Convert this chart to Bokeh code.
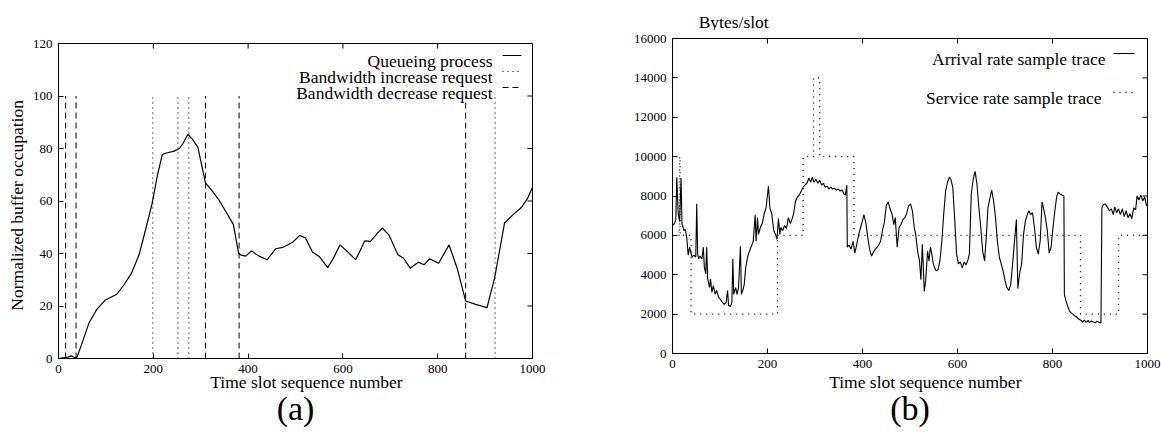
from bokeh.plotting import figure
from bokeh.layouts import row, column
from bokeh.models import Range1d, LinearAxis, Label, FixedTicker
from bokeh.embed import file_html
from bokeh.resources import INLINE

FONT = "Liberation Serif"

# ---------------- data : panel (a) ----------------
queue_x = [0, 13, 21, 27, 33, 38, 48, 64, 80, 99, 123, 138, 154, 170, 185, 197,
           209, 219, 228, 244, 255, 263, 273, 283, 294, 310, 322, 338, 353, 369,
           380, 384, 395, 407, 423, 440, 458, 473, 494, 509, 521, 536, 550, 568,
           580, 594, 611, 627, 646, 658, 670, 683, 697, 716, 728, 742, 759, 771,
           783, 802, 824, 841, 859, 880, 904, 920, 941, 959, 977, 990, 1000]
queue_y = [0, 0.3, 0.6, 1.0, 0.5, 0, 5, 13.4, 18.5, 22.3, 24.5, 28, 32.5, 39.5,
           50, 58.6, 70, 77.7, 78.3, 79, 80, 82, 85.4, 83.4, 80.5, 66.9, 64.3,
           60.5, 56, 51, 40.1, 39.5, 39, 41, 39, 37.6, 41.8, 42.3, 44.3, 46.9,
           45.9, 40.5, 38.9, 34.6, 38.2, 43.3, 40.5, 37.6, 44.8, 44.6, 47.1, 49.7,
           47.1, 39.5, 38.2, 34.4, 36.7, 35.7, 38, 36.3, 43.3, 34.4, 21.9, 20.6,
           19.4, 30.6, 51.6, 54.8, 57.6, 61.1, 65.2]
inc_req_x = [199, 252, 275, 921]
dec_req_x = [15, 37, 310, 381, 859]
req_level = 100

# ---------------- data : panel (b) ----------------
arr_x = [0, 4, 7, 9, 12, 15, 18, 20, 24, 27,
         30, 33, 36, 39, 41, 45, 49, 51, 53, 55,
         58, 62, 65, 67, 70, 72, 74, 78, 80, 83,
         86, 90, 93, 97, 101, 105, 109, 113, 116, 118,
         122, 125, 127, 129, 133, 136, 139, 143, 145, 148,
         151, 154, 158, 162, 166, 170, 174, 176, 179, 181,
         185, 189, 193, 197, 202, 205, 209, 213, 217, 220,
         223, 226, 228, 232, 236, 240, 244, 248, 252, 255,
         259, 263, 267, 271, 275, 279, 283, 287, 291, 294,
         298, 302, 306, 310, 314, 318, 321, 326, 329, 333,
         337, 341, 345, 349, 353, 357, 361, 364, 367, 368,
         372, 376, 380, 384, 388, 392, 396, 400, 403, 407,
         411, 415, 419, 423, 427, 431, 435, 438, 442, 446,
         450, 454, 458, 462, 466, 469, 473, 477, 481, 485,
         489, 493, 497, 501, 505, 509, 512, 516, 520, 523,
         526, 528, 530, 533, 537, 540, 543, 546, 549, 552,
         555, 559, 563, 567, 571, 575, 579, 583, 586, 590,
         594, 598, 602, 606, 610, 614, 618, 622, 625, 629,
         633, 637, 641, 645, 649, 653, 657, 661, 664, 668,
         672, 676, 680, 684, 688, 692, 696, 700, 704, 708,
         712, 716, 720, 724, 727, 731, 735, 739, 743, 747,
         750, 754, 758, 762, 766, 770, 774, 778, 781, 785,
         789, 793, 797, 801, 805, 809, 812, 816, 820, 824,
         825, 828, 832, 836, 840, 843, 847, 851, 855, 859,
         863, 867, 871, 875, 878, 882, 886, 890, 894, 898,
         902, 904, 907, 911, 915, 920, 924, 928, 931, 935,
         939, 943, 947, 951, 955, 959, 963, 967, 971, 975,
         978, 982, 986, 990, 994, 998, 1000]
arr_y = [6500, 6600, 6800, 8950, 7100, 6700, 8900, 6600, 6250, 6300,
         5900, 5000, 5400, 5100, 4900, 5000, 4900, 7600, 5050, 4800,
         4950, 4800, 5400, 4400, 4050, 5400, 3800, 3350, 3800, 3100,
         3450, 3000, 3200, 2850, 2750, 2600, 2500, 2600, 3200, 2450,
         2380, 2600, 4800, 3000, 3350, 3000, 3350, 5450, 3000, 3200,
         3500, 4350, 4900, 5200, 5450, 5700, 7050, 5700, 6900, 6050,
         6400, 6600, 7100, 7400, 8500, 7400, 7100, 6250, 6050, 5800,
         6850, 6050, 6400, 6250, 6500, 6350, 6900, 6600, 6850, 7100,
         7750, 7950, 8050, 8250, 8450, 8550, 8650, 8900, 8700, 8950,
         8700, 8850, 8650, 8800, 8550, 8650, 8450, 8500, 8350, 8450,
         8350, 8400, 8300, 8350, 8250, 8300, 8100, 8050, 8550, 5400,
         5500, 5300, 5700, 5100, 5550, 6050, 6400, 6750, 7050, 6650,
         5900, 5300, 4950, 5150, 5300, 5400, 5550, 5700, 6250, 6650,
         7500, 7700, 7350, 7100, 6550, 6900, 5400, 6400, 6550, 6800,
         6900, 7100, 7500, 7600, 7250, 6400, 6050, 5200, 4700, 3750,
         5550, 4350, 3150, 3700, 5200, 4700, 5400, 5050, 4550, 4350,
         4200, 4250, 4700, 5700, 7100, 8250, 8700, 8950, 8850, 8450,
         6900, 5050, 4550, 4650, 4350, 4650, 4500, 4750, 5050, 8100,
         8850, 9250, 8600, 7400, 6400, 5200, 4700, 6050, 7400, 7850,
         8300, 7750, 6900, 5700, 4900, 4550, 4200, 3700, 3350, 3200,
         3500, 4550, 5700, 6800, 3300, 4100, 4550, 6050, 6750, 7050,
         7250, 7050, 7150, 6400, 5400, 5050, 5700, 7700, 7400, 6900,
         6250, 5100, 5400, 6400, 7250, 8000, 8200, 8100, 8050, 8000,
         3000, 2700, 2400, 2150, 2050, 2000, 1900, 1850, 1750, 1700,
         1600, 1700, 1580, 1680, 1580, 1650, 1600, 1560, 1640, 1580,
         1550, 7400, 7550, 7600, 7450, 7250, 7350, 7050, 7450, 7150,
         7350, 7050, 7350, 6950, 7250, 6900, 7100, 6850, 7400, 7300,
         8000, 7800, 8050, 7750, 7950, 7500, 7600]
svc_x = [0, 15, 16, 39, 221, 275, 297, 310, 382, 859, 939, 1000]
svc_y = [6000, 10000, 6000, 2000, 6000, 10000, 14000, 10000, 6000, 2000, 6000, 6000]

x_ticks = [0, 200, 400, 600, 800, 1000]
ya_ticks = [0, 20, 40, 60, 80, 100, 120]
yb_ticks = [0, 2000, 4000, 6000, 8000, 10000, 12000, 14000, 16000]

# ---------------- layout constants (page pixels, origin top-left) ----------------
PAGE_H = 432
FRAME_H = 315
TICK = 5
A_W, A_BL, A_BR, A_BT = 580, 58, 48, 43
B_W, B_BL, B_BR = 581, 92, 14
B_TOPSTRIP = 30
B_BT = 8
A_LEFT, A_TOP = A_BL, A_BT                          # 58, 43
B_LEFT, B_TOP = A_W + B_BL, B_TOPSTRIP + B_BT       # 672, 38
A_FW = A_W - A_BL - A_BR
B_FW = B_W - B_BL - B_BR
NB = "\u00a0"


def style_axis(ax):
    ax.axis_line_color = "black"
    ax.axis_line_width = 1
    ax.major_tick_in = TICK
    ax.major_tick_out = 0
    ax.minor_tick_in = 0
    ax.minor_tick_out = 0
    ax.major_tick_line_color = "black"
    ax.major_label_text_font = FONT
    ax.major_label_text_font_size = "13px"
    ax.major_label_text_color = "black"
    ax.axis_label_text_font = FONT
    ax.axis_label_text_font_size = "17.5px"
    ax.axis_label_text_font_style = "normal"
    ax.axis_label_text_color = "black"


def make_fig(width, height, bl, br, bt, fw, ymax, yticks, xlabel, xl_stand,
             tag, tag_stand):
    p = figure(width=width, height=height, x_range=Range1d(0, 1000),
               y_range=Range1d(0, ymax), output_backend="svg", title=None,
               toolbar_location=None, min_border_left=bl, min_border_right=br,
               min_border_top=bt, min_border_bottom=height - bt - FRAME_H)
    p.grid.visible = False
    p.outline_line_color = "black"
    p.outline_line_width = 1
    p.background_fill_color = "white"
    p.border_fill_color = "white"
    xa, ya = p.below[0], p.left[0]
    xa.ticker = FixedTicker(ticks=x_ticks)
    ya.ticker = FixedTicker(ticks=yticks)
    style_axis(xa)
    style_axis(ya)
    ya.major_label_standoff = 6
    xa.major_label_standoff = 6
    xa.axis_label = xlabel
    xa.axis_label_standoff = xl_stand
    # outer caption "(a)" / "(b)" as label of a bare axis below
    cap = LinearAxis(ticker=FixedTicker(ticks=[]), axis_line_color=None,
                     major_tick_line_color=None, minor_tick_line_color=None,
                     major_label_standoff=0, axis_label=tag,
                     axis_label_standoff=tag_stand, axis_label_text_font=FONT,
                     axis_label_text_font_size="34px",
                     axis_label_text_font_style="normal",
                     axis_label_text_color="black")
    p.add_layout(cap, "below")
    # mirrored inward ticks on top and right borders
    dy = TICK * ymax / FRAME_H
    dx = TICK * 1000 / fw
    p.segment(x0=x_ticks, y0=[ymax] * len(x_ticks), x1=x_ticks,
              y1=[ymax - dy] * len(x_ticks), line_color="black", line_width=1)
    p.segment(x0=[1000] * len(yticks), y0=yticks, x1=[1000 - dx] * len(yticks),
              y1=yticks, line_color="black", line_width=1)
    return p


def txt(p, x, y, text, size="17.5px", align="left", baseline="alphabetic"):
    p.add_layout(Label(x=x, y=y, text=text, text_font=FONT, text_font_size=size,
                       text_align=align, text_baseline=baseline,
                       text_color="black"))


# ---------------- panel (a) ----------------
pa = make_fig(A_W, PAGE_H, A_BL, A_BR, A_BT, A_FW, 120, ya_ticks,
              NB * 5 + "Time slot sequence number", -4, "(a)", -5)
ax_ = lambda px: (px - A_LEFT) / A_FW * 1000
ay_ = lambda py: (A_TOP + FRAME_H - py) / FRAME_H * 120

pa.segment(x0=inc_req_x, y0=[0] * len(inc_req_x), x1=inc_req_x,
           y1=[req_level] * len(inc_req_x), line_color="black", line_width=1.2,
           line_dash="1 4")
pa.segment(x0=dec_req_x, y0=[0] * len(dec_req_x), x1=dec_req_x,
           y1=[req_level] * len(dec_req_x), line_color="black", line_width=1,
           line_dash="6 4")
pa.line(queue_x, queue_y, line_color="black", line_width=1.2)

leg_a = [("Queueing process", None, 1.2),
         ("Bandwidth increase request", "1 4", 1.2),
         ("Bandwidth decrease request", "6 4", 1.0)]
for i, (name, dash, lw) in enumerate(leg_a):
    cy = 55 + 16 * i
    txt(pa, ax_(492), ay_(cy + 5), name, align="right")
    kw = dict(line_color="black", line_width=lw)
    if dash:
        kw["line_dash"] = dash
    pa.segment(x0=[ax_(502)], y0=[ay_(cy)], x1=[ax_(521)], y1=[ay_(cy)], **kw)

pa.left[0].axis_label = "Normalized buffer occupation" + NB * 2
pa.left[0].axis_label_standoff = 3

# ---------------- panel (b) ----------------
pb = make_fig(B_W, PAGE_H - B_TOPSTRIP, B_BL, B_BR, B_BT, B_FW, 16000, yb_ticks,
              NB * 7 + "Time slot sequence number", 1, "(b)", -5)
bx_ = lambda px: (px - B_LEFT) / B_FW * 1000
by_ = lambda py: (B_TOP + FRAME_H - py) / FRAME_H * 16000

pb.step(svc_x, svc_y, mode="after", line_color="black", line_width=1.3,
        line_dash="1 5")
pb.line(arr_x, arr_y, line_color="black", line_width=1.1)

txt(pb, bx_(1105), by_(58), "Arrival rate sample trace", align="right")
pb.segment(x0=[bx_(1113)], y0=[by_(53)], x1=[bx_(1134)], y1=[by_(53)],
           line_color="black", line_width=1.1)
txt(pb, bx_(1101), by_(97), "Service rate sample trace", align="right")
pb.segment(x0=[bx_(1113)], y0=[by_(92)], x1=[bx_(1134)], y1=[by_(92)],
           line_color="black", line_width=1.3, line_dash="1 5")

# strip above panel (b) carrying the unit label
top_b = figure(width=B_W, height=B_TOPSTRIP, x_range=Range1d(0, B_W),
               y_range=Range1d(0, B_TOPSTRIP), output_backend="svg", title=None,
               toolbar_location=None, min_border=0, x_axis_type=None,
               y_axis_type=None)
top_b.grid.visible = False
top_b.outline_line_color = None
top_b.background_fill_color = "white"
top_b.border_fill_color = "white"
top_b.add_layout(Label(x=612 - A_W, y=B_TOPSTRIP - 21, text="Bytes/slot",
                       text_font=FONT, text_font_size="17.5px",
                       text_align="left", text_baseline="alphabetic",
                       text_color="black"))

layout = row(pa, column(top_b, pb))
open("out.html", "w").write(file_html(layout, INLINE))
